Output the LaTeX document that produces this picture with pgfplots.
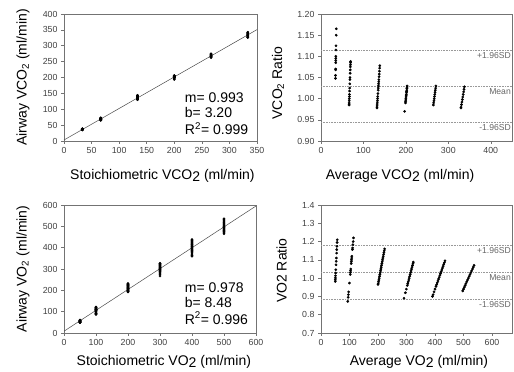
\documentclass[border=0pt]{standalone}
\usepackage{fontspec}
\setmainfont{Liberation Sans}
\usepackage{pgfplots}
\pgfplotsset{compat=1.18}
\definecolor{frame}{gray}{0.45}
\pgfplotsset{
  panel/.style={
    scale only axis, anchor=south west,
    axis line style={frame, line width=0.6pt},
    tick style={frame, line width=0.5pt},
    tick align=outside, tick pos=left, major tick length=3pt,
    ticklabel style={font=\fontsize{8.8}{10}\selectfont, text=black!75},
    label style={font=\fontsize{14}{16}\selectfont},
    /pgf/number format/assume math mode=true,
    xlabel style={anchor=center}, ylabel style={anchor=center, rotate=0},
    clip=false,
  },
  pts/.style={only marks, mark=*, mark size=1.15pt, black},
  fit/.style={no marks, line width=0.5pt, black!70},
  sd/.style={no marks, densely dotted, line width=0.6pt, black!40},
}
\tikzset{
  sdlab/.style={font=\fontsize{8.6}{10}\selectfont, text=black!60, anchor=north east, inner sep=1pt},
  ann/.style={font=\fontsize{14}{15.5}\selectfont, anchor=west, align=left, inner sep=0pt},
}
\begin{document}
\begin{tikzpicture}
\path[use as bounding box] (0pt,0pt) rectangle (514pt,372pt);

% ---------- top left ----------
\begin{axis}[panel, at={(64pt,231pt)}, width=193pt, height=127pt,
  xmin=0, xmax=350, ymin=0, ymax=400,
  xtick={0,50,...,350}, ytick={0,50,...,400},
  xlabel={Stoichiometric VCO\raisebox{-0.3ex}{2} (ml/min)},
  ylabel={Airway VCO\textsubscript{2} (ml/min)},
  xlabel style={at={(axis description cs:0.51,-0.276)}},
  ylabel style={at={(axis description cs:-0.212,0.5)}},
]
\addplot[fit] coordinates {(0,3.2) (350,350.75)};
\addplot[pts] coordinates {
(33.3,38.79)(33.3,38.30)(33.3,37.46)(33.3,37.13)(33.3,36.63)(33.3,36.46)(33.3,36.30)(33.3,36.13)(33.3,35.63)(33.3,35.56)(33.3,35.13)(33.3,34.90)
(66.7,72.57)(66.7,72.37)(66.7,72.04)(66.7,71.70)(66.7,71.24)(66.7,70.70)(66.7,70.04)(66.7,69.70)(66.7,69.03)(66.7,68.37)(66.7,67.90)(66.7,67.37)(66.7,67.03)(66.7,66.70)(66.7,66.37)(66.7,66.03)(66.7,65.83)(66.7,65.70)
(133.3,143.70)(133.3,142.90)(133.3,141.96)(133.3,141.03)(133.3,140.23)(133.3,139.30)(133.3,138.63)(133.3,137.97)(133.3,137.30)(133.3,136.63)(133.3,135.97)(133.3,134.90)(133.3,133.97)(133.3,133.30)(133.3,132.63)(133.3,131.97)(133.3,131.30)(133.3,130.63)(133.3,130.37)
(200,206)(200,205.4)(200,204.8)(200,204)(200,203.4)(200,202.8)(200,202)(200,201.4)(200,200.8)(200,200)(200,199.4)(200,198.8)(200,198)(200,194)
(266.7,274.70)(266.7,273.37)(266.7,272.03)(266.7,270.70)(266.7,269.37)(266.7,268.03)(266.7,266.70)(266.7,265.37)(266.7,264.03)(266.7,262.70)
(333.3,342.63)(333.3,340.63)(333.3,338.63)(333.3,336.63)(333.3,334.63)(333.3,332.63)(333.3,330.63)(333.3,328.63)(333.3,326.63)(333.3,325.97)
};
\node[ann] at (axis cs:219,137.6) {m= 0.993};
\node[ann] at (axis cs:219,90.4) {b= 3.20};
\node[ann] at (axis cs:219,40) {R\textsuperscript{2}= 0.999};
\end{axis}

% ---------- top right ----------
\begin{axis}[panel, at={(321pt,231pt)}, width=191pt, height=127pt,
  xmin=0, xmax=450, ymin=0.9, ymax=1.2,
  xtick={0,100,...,400}, ytick={0.90,0.95,...,1.21},
  yticklabel style={/pgf/number format/.cd, fixed, fixed zerofill, precision=2},
  xlabel={Average VCO\raisebox{-0.3ex}{2} (ml/min)},
  ylabel={VCO\textsubscript{2} Ratio},
  xlabel style={at={(axis description cs:0.414,-0.276)}},
  ylabel style={at={(axis description cs:-0.225,0.457)}},
]
\addplot[sd] coordinates {(0,1.114) (450,1.114)};
\addplot[sd] coordinates {(0,1.029) (450,1.029)};
\addplot[sd] coordinates {(0,0.944) (450,0.944)};
\addplot[pts] coordinates {
(36.05,1.165)(35.80,1.150)(35.38,1.125)(35.21,1.115)(34.97,1.100)(34.88,1.095)(34.80,1.090)(34.72,1.085)(34.47,1.070)(34.43,1.068)(34.22,1.055)(34.10,1.048)
(69.63,1.088)(69.53,1.085)(69.37,1.080)(69.20,1.075)(68.97,1.068)(68.70,1.060)(68.37,1.050)(68.20,1.045)(67.87,1.035)(67.53,1.025)(67.30,1.018)(67.03,1.010)(66.87,1.005)(66.70,1.000)(66.53,0.995)(66.37,0.990)(66.27,0.987)(66.20,0.985)
(138.50,1.078)(138.10,1.072)(137.63,1.065)(137.17,1.058)(136.77,1.052)(136.30,1.045)(135.97,1.040)(135.63,1.035)(135.30,1.030)(134.97,1.025)(134.63,1.020)(134.10,1.012)(133.63,1.005)(133.30,1.000)(132.97,0.995)(132.63,0.990)(132.30,0.985)(131.97,0.980)(131.83,0.978)
(203.0,1.030)(202.7,1.027)(202.4,1.024)(202.0,1.020)(201.7,1.017)(201.4,1.014)(201.0,1.010)(200.7,1.007)(200.4,1.004)(200.0,1.000)(199.7,0.997)(199.4,0.994)(199.0,0.990)(197.0,0.970)
(270.70,1.030)(270.03,1.025)(269.37,1.020)(268.70,1.015)(268.03,1.010)(267.37,1.005)(266.70,1.000)(266.03,0.995)(265.37,0.990)(264.70,0.985)
(337.97,1.028)(336.97,1.022)(335.97,1.016)(334.97,1.010)(333.97,1.004)(332.97,0.998)(331.97,0.992)(330.97,0.986)(329.97,0.980)(329.63,0.978)
};
\node[sdlab] at (axis cs:450,1.111) {+1.96SD};
\node[sdlab] at (axis cs:450,1.026) {Mean};
\node[sdlab] at (axis cs:450,0.941) {-1.96SD};
\end{axis}

% ---------- bottom left ----------
\begin{axis}[panel, at={(64pt,39pt)}, width=192pt, height=128pt,
  xmin=0, xmax=600, ymin=0, ymax=600,
  xtick={0,100,...,600}, ytick={0,100,...,600},
  xlabel={Stoichiometric VO\raisebox{-0.3ex}{2} (ml/min)},
  ylabel={Airway VO\textsubscript{2} (ml/min)},
  xlabel style={at={(axis description cs:0.52,-0.227)}},
  ylabel style={at={(axis description cs:-0.214,0.5)}},
]
\addplot[fit] coordinates {(0,8.48) (600,595.28)};
\addplot[pts] coordinates {
(50,60.5)(50,59.75)(50,58.7)(50,57.8)(50,56.85)(50,55.5)(50,54.6)(50,53.65)(50,52.3)(50,51.4)(50,50.65)(50,50.05)(50,49.55)(50,49.1)
(100,122.0)(100,120.0)(100,118.3)(100,116.5)(100,115.6)(100,112.0)(100,111.0)(100,110.0)(100,109.0)(100,108.0)(100,105.0)(100,104.0)(100,103.0)(100,102.0)(100,97.3)(100,92.5)(100,91.0)(100,89.5)(100,87.3)
(200,232)(200,230)(200,228)(200,226)(200,224)(200,222)(200,220)(200,218)(200,216)(200,214)(200,212)(200,210)(200,208)(200,206)(200,204)(200,202)(200,200)(200,198)(200,196)(200,194)(200,193)
(300,326.4)(300,324)(300,321)(300,318)(300,315)(300,312)(300,309)(300,306)(300,303)(300,300)(300,297)(300,294)(300,291)(300,288)(300,282)(300,276)(300,267)
(400,438)(400,434)(400,430)(400,426)(400,422)(400,418)(400,414)(400,410)(400,406)(400,402)(400,398)(400,394)(400,390)(400,386)(400,382)(400,376)(400,370)(400,364)(400,360)
(500,535)(500,530)(500,525)(500,520)(500,515)(500,510)(500,505)(500,500)(500,495)(500,490)(500,485)(500,480)(500,475)(500,470)(500,465)
};
\node[ann] at (axis cs:377,211) {m= 0.978};
\node[ann] at (axis cs:377,145) {b= 8.48};
\node[ann] at (axis cs:377,70) {R\textsuperscript{2}= 0.996};
\end{axis}

% ---------- bottom right ----------
\begin{axis}[panel, at={(321pt,39pt)}, width=191pt, height=128pt,
  xmin=0, xmax=670, ymin=0.7, ymax=1.4,
  xtick={0,100,...,600}, ytick={0.7,0.8,...,1.41},
  yticklabel style={/pgf/number format/.cd, fixed, fixed zerofill, precision=1},
  xlabel={Average VO\raisebox{-0.3ex}{2} (ml/min)},
  ylabel={VO2 Ratio},
  xlabel style={at={(axis description cs:0.513,-0.227)}},
  ylabel style={at={(axis description cs:-0.206,0.487)}},
]
\addplot[sd] coordinates {(0,1.180) (670,1.180)};
\addplot[sd] coordinates {(0,1.030) (670,1.030)};
\addplot[sd] coordinates {(0,0.885) (670,0.885)};
\addplot[pts] coordinates {
(57.0,1.210)(56.5,1.195)(55.9,1.174)(55.3,1.156)(54.8,1.137)(53.9,1.110)(53.4,1.092)(52.8,1.073)(52.0,1.046)(51.4,1.028)(51.0,1.013)(50.6,1.001)(50.3,0.991)(50.0,0.982)
(114.0,1.220)(112.8,1.200)(111.9,1.183)(110.8,1.165)(110.3,1.156)(108.2,1.120)(107.7,1.110)(107.1,1.100)(106.5,1.090)(105.9,1.080)(104.2,1.050)(103.6,1.040)(103.0,1.030)(102.5,1.020)(99.8,0.973)(97.0,0.925)(96.1,0.910)(95.3,0.895)(94.0,0.873)
(223.0,1.160)(221.8,1.150)(220.6,1.140)(219.5,1.130)(218.3,1.120)(217.1,1.110)(215.9,1.100)(214.7,1.090)(213.6,1.080)(212.4,1.070)(211.2,1.060)(210.0,1.050)(208.8,1.040)(207.7,1.030)(206.5,1.020)(205.3,1.010)(204.1,1.000)(202.9,0.990)(201.8,0.980)(200.6,0.970)(200.0,0.965)
(324.0,1.088)(322.7,1.080)(321.0,1.070)(319.3,1.060)(317.7,1.050)(316.0,1.040)(314.3,1.030)(312.7,1.020)(311.0,1.010)(309.3,1.000)(307.7,0.990)(306.0,0.980)(304.3,0.970)(302.7,0.960)(299.3,0.940)(296.0,0.920)(291.0,0.890)
(435.0,1.095)(432.7,1.085)(430.5,1.075)(428.2,1.065)(426.0,1.055)(423.7,1.045)(421.5,1.035)(419.2,1.025)(417.0,1.015)(414.7,1.005)(412.4,0.995)(410.2,0.985)(407.9,0.975)(405.7,0.965)(403.4,0.955)(400.0,0.940)(396.6,0.925)(393.3,0.910)(391.0,0.900)
(537.0,1.070)(534.1,1.060)(531.3,1.050)(528.4,1.040)(525.6,1.030)(522.7,1.020)(519.9,1.010)(517.0,1.000)(514.1,0.990)(511.3,0.980)(508.4,0.970)(505.6,0.960)(502.7,0.950)(499.9,0.940)(497.0,0.930)
};
\node[sdlab] at (axis cs:670,1.174) {+1.96SD};
\node[sdlab] at (axis cs:670,1.024) {Mean};
\node[sdlab] at (axis cs:670,0.879) {-1.96SD};
\end{axis}
\end{tikzpicture}
\end{document}
